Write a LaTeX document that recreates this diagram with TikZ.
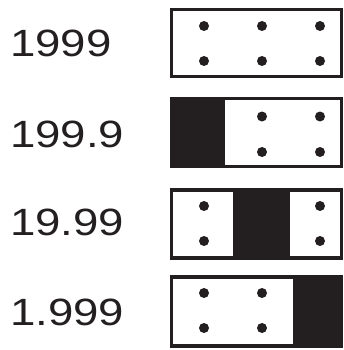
\documentclass[tikz,border=0pt]{standalone}
\usepackage{fontspec}
\setmainfont{Liberation Sans}
\definecolor{ink}{HTML}{231F20}
\begin{document}
\begin{tikzpicture}[x=1pt,y=-1pt,
    every node/.style={font=\fontsize{38}{44}\selectfont,text=ink,xscale=1.2,anchor=west,inner sep=0pt},
    frame/.style={draw=ink,line width=3.8pt},
    dot/.style={fill=ink,radius=5pt}]
    \useasboundingbox (0,0) rectangle (344,350);
    % labels
    \node (r1) at (10,43) {1999};
    \node (r2) at (10,134) {199.9};
    \node (r3) at (10,222) {19.99};
    \node (r4) at (10,312) {1.999};
    % black cells
    \fill[ink] (171.5,98.5) rectangle (225,166.5);
    \fill[ink] (233,190) rectangle (290,258);
    \fill[ink] (293,277) rectangle (341.5,346);
    % frames
    \draw[frame] (171.5,9.5) rectangle (341.5,76.5);
    \draw[frame] (171.5,98.5) rectangle (341.5,166.5);
    \draw[frame] (171.5,190) rectangle (341.5,258);
    \draw[frame] (171.5,277) rectangle (341.5,346);
    % dots
    \foreach \x in {204,262,320}
        \fill[dot] (\x,26) circle[] (\x,61) circle[];
    \foreach \x in {262,320}
        \fill[dot] (\x,116.5) circle[] (\x,152) circle[];
    \foreach \x in {204,320}
        \fill[dot] (\x,206) circle[] (\x,241) circle[];
    \foreach \x in {204,262}
        \fill[dot] (\x,293) circle[] (\x,328) circle[];
\end{tikzpicture}
\end{document}
